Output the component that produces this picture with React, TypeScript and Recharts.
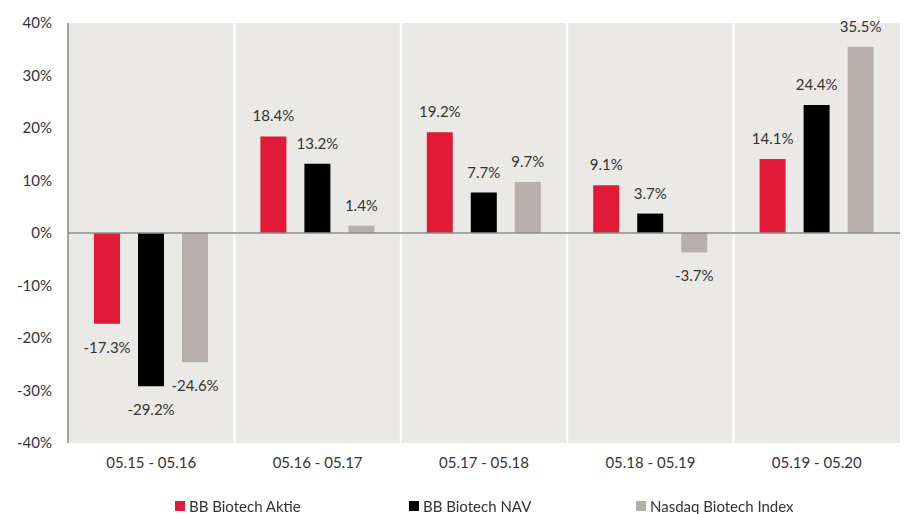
import { Bar, BarChart, CartesianGrid, LabelList, ReferenceLine, XAxis, YAxis } from "recharts";

const periods = ["05.15 - 05.16", "05.16 - 05.17", "05.17 - 05.18", "05.18 - 05.19", "05.19 - 05.20"];
const aktie = [-17.3, 18.4, 19.2, 9.1, 14.1];
const nav = [-29.2, 13.2, 7.7, 3.7, 24.4];
const nasdaq = [-24.6, 1.4, 9.7, -3.7, 35.5];
const yTicks = [-40, -30, -20, -10, 0, 10, 20, 30, 40];

const series = [
  { key: "aktie", name: "BB Biotech Aktie", color: "#e11a37", left: 175 },
  { key: "nav", name: "BB Biotech NAV", color: "#000000", left: 409 },
  { key: "nasdaq", name: "Nasdaq Biotech Index", color: "#b7afa9", left: 636 },
];

const data = periods.map((p, i) => ({ period: p, aktie: aktie[i], nav: nav[i], nasdaq: nasdaq[i] }));

const FONT = "Lato, 'Open Sans', sans-serif";
const TEXT = "#333333";

function ValueLabel(props: any) {
  const { x, y, width, height, value } = props;
  const top = Math.min(y, y + height);
  const bottom = Math.max(y, y + height);
  const cy = value >= 0 ? top - 21 : bottom + 23;
  return (
    <text x={x + width / 2} y={cy} textAnchor="middle" dominantBaseline="central" fontSize={15} fill={TEXT} fontFamily={FONT}>
      {`${value.toFixed(1)}%`}
    </text>
  );
}

export default function App() {
  return (
    <div style={{ position: "fixed", left: 0, top: 0, width: 904, height: 514, background: "#fff" }}>
      <BarChart
        width={904}
        height={514}
        data={data}
        margin={{ top: 23, right: 4, left: 0, bottom: 41 }}
        barSize={26}
        barGap={18}
      >
        <CartesianGrid
          horizontal={false}
          fill="#ebe9e6"
          stroke="#ffffff"
          strokeWidth={2}
          verticalCoordinatesGenerator={({ offset }: any) =>
            [1, 2, 3, 4].map((i) => offset.left + (offset.width * i) / periods.length)
          }
        />
        <XAxis
          dataKey="period"
          axisLine={false}
          tickLine={false}
          tickSize={0}
          tickMargin={14}
          height={30}
          tick={{ fontSize: 15, fill: TEXT, fontFamily: FONT }}
        />
        <YAxis
          domain={[-40, 40]}
          ticks={yTicks}
          tickFormatter={(v) => `${v}%`}
          width={68}
          tickLine={false}
          tickSize={0}
          tickMargin={16}
          axisLine={{ stroke: "#8c8c8c", strokeWidth: 1.5 }}
          tick={{ fontSize: 15, fill: TEXT, fontFamily: FONT }}
        />
        <ReferenceLine y={0} stroke="#8c8c8c" strokeWidth={1.5} />
        {series.map((s) => (
          <Bar key={s.key} dataKey={s.key} name={s.name} fill={s.color} isAnimationActive={false}>
            <LabelList dataKey={s.key} content={<ValueLabel />} />
          </Bar>
        ))}
      </BarChart>
      {series.map((s) => (
        <div
          key={s.key}
          style={{
            position: "absolute",
            left: s.left,
            top: 496,
            display: "flex",
            alignItems: "center",
            fontFamily: FONT,
            fontSize: 15,
            color: TEXT,
            lineHeight: "20px",
          }}
        >
          <span style={{ width: 10, height: 10, background: s.color, marginRight: 4, display: "inline-block" }} />
          {s.name}
        </div>
      ))}
    </div>
  );
}
